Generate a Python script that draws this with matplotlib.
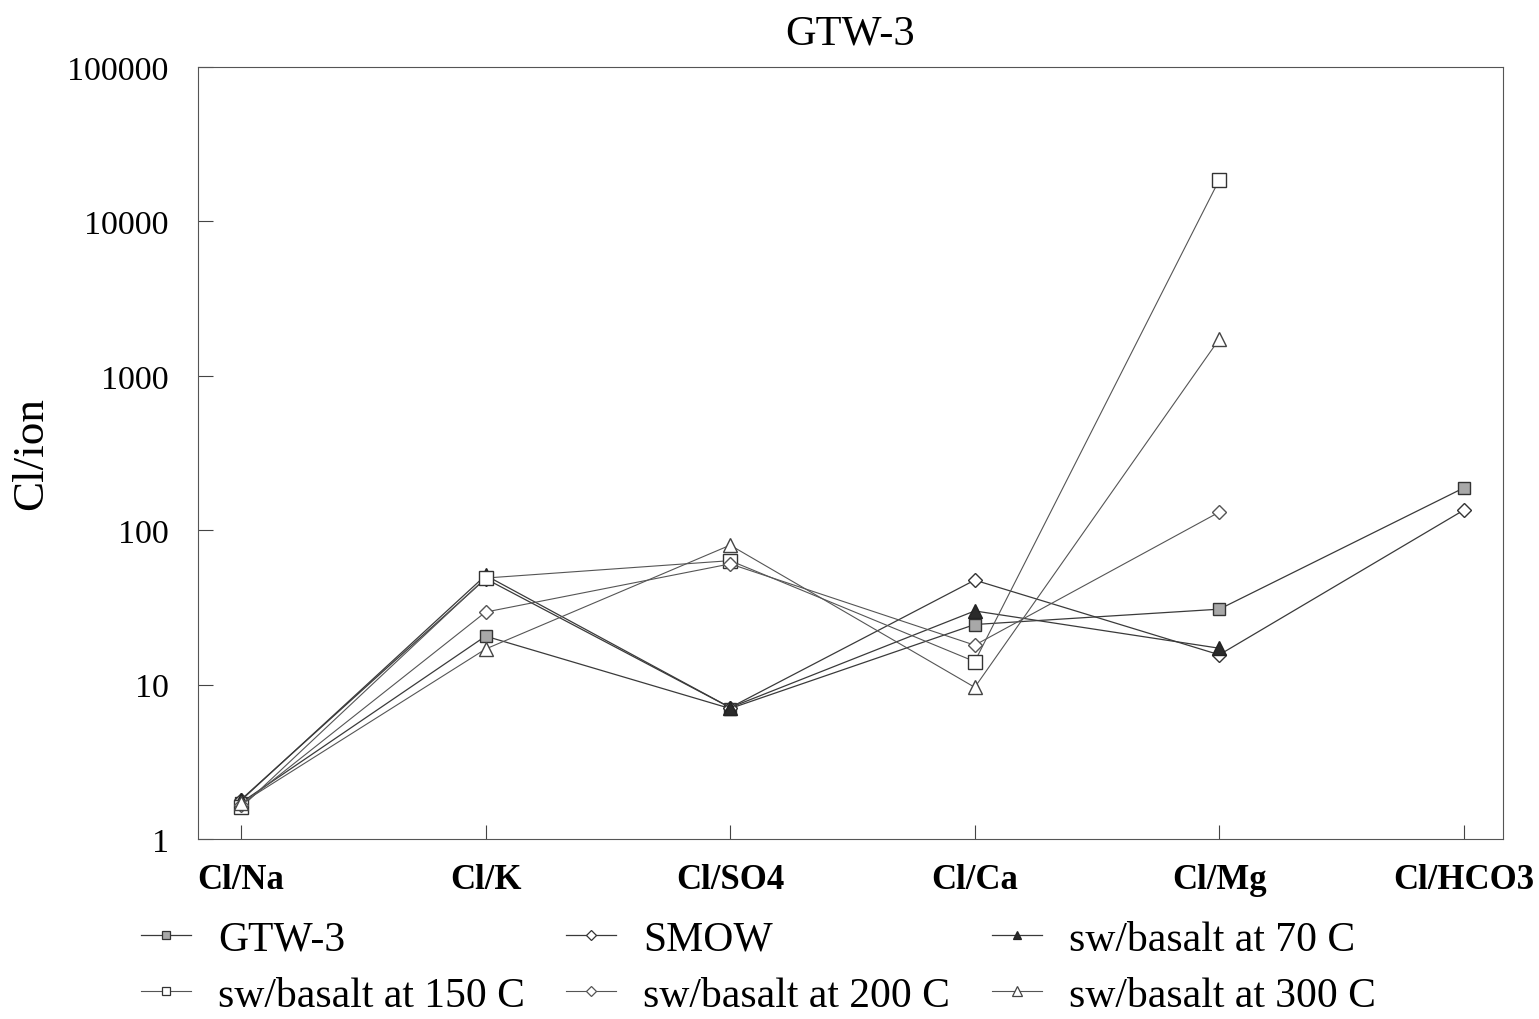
import matplotlib
matplotlib.use("Agg")
import matplotlib.pyplot as plt
from matplotlib.lines import Line2D
import numpy as np

plt.rcParams['font.family'] = ['Liberation Serif', 'DejaVu Serif']

categories = ["Cl/Na", "Cl/K", "Cl/SO4", "Cl/Ca", "Cl/Mg", "Cl/HCO3"]
series_names = ["GTW-3", "SMOW", "sw/basalt at 70 C",
                "sw/basalt at 150 C", "sw/basalt at 200 C", "sw/basalt at 300 C"]
gtw3 = [1.72, 20.6, 7.0, 24.5, 30.8, 188]
smow = [1.8, 48.5, 7.1, 47.5, 15.6, 135]
sw70 = [1.78, 51, 7.1, 30, 17.2, None]
sw150 = [1.6, 49, 63.5, 14.1, 18600, None]
sw200 = [1.65, 29.5, 60.5, 18, 131, None]
sw300 = [1.7, 17, 80, 9.6, 1730, None]
y_ticks = [1, 10, 100, 1000, 10000, 100000]

data = [gtw3, smow, sw70, sw150, sw200, sw300]
styles = [
    dict(marker='s', mfc='#a8a8a8', mec='#333333', ms=8.5, color='#3a3a3a', lw=0.9),
    dict(marker='D', mfc='white', mec='#333333', ms=7.5, color='#3a3a3a', lw=0.9),
    dict(marker='^', mfc='#2a2a2a', mec='#222222', ms=9.5, color='#3a3a3a', lw=0.9),
    dict(marker='s', mfc='white', mec='#333333', ms=9.5, color='#555555', lw=0.8),
    dict(marker='D', mfc='white', mec='#555555', ms=7.5, color='#555555', lw=0.8),
    dict(marker='^', mfc='white', mec='#444444', ms=10.5, color='#555555', lw=0.8),
]

fig = plt.figure(figsize=(15.39, 10.20), dpi=100)
ax = fig.add_axes([198/1539, 1-840/1020, (1503-198)/1539, (840-68)/1020])

x = np.arange(len(categories))
for vals, st in zip(data, styles):
    xs = [xi for xi, v in zip(x, vals) if v is not None]
    ys = [v for v in vals if v is not None]
    ax.plot(xs, ys, mew=1.0, **st)

ax.set_yscale('log')
ax.set_ylim(1, 100000)
ax.set_xlim(-0.176, 5.16)
ax.set_yticks(y_ticks)
ax.set_yticklabels([str(t) for t in y_ticks], fontsize=24.5)
ax.yaxis.set_minor_locator(matplotlib.ticker.NullLocator())
ax.set_xticks(x)
ax.set_xticklabels(categories, fontsize=25, fontweight='bold')
ax.tick_params(axis='y', direction='in', length=11, width=0.8, pad=21, colors='#444444', labelcolor='black')
ax.tick_params(axis='x', direction='in', length=10, width=0.8, pad=17, colors='#444444', labelcolor='black')
for s in ax.spines.values():
    s.set_linewidth(0.8)
    s.set_color('#555555')

ax.set_ylabel("Cl/ion", fontsize=32.5, labelpad=12)
ax.set_title("GTW-3", fontsize=30.5, pad=17)

handles = []
for st in styles:
    s2 = dict(st)
    s2['ms'] = st['ms'] * 0.68
    handles.append(Line2D([], [], mew=0.9, **s2))
order = [0, 3, 1, 4, 2, 5]
fig.legend([handles[i] for i in order], [series_names[i] for i in order],
           ncol=3, loc='upper left', bbox_to_anchor=(112/1539, 1-892/1020),
           frameon=False, fontsize=30, handlelength=1.2, handletextpad=0.65,
           columnspacing=0.99, labelspacing=0.42, borderpad=0.2)

fig.savefig("out.png", dpi=100)
